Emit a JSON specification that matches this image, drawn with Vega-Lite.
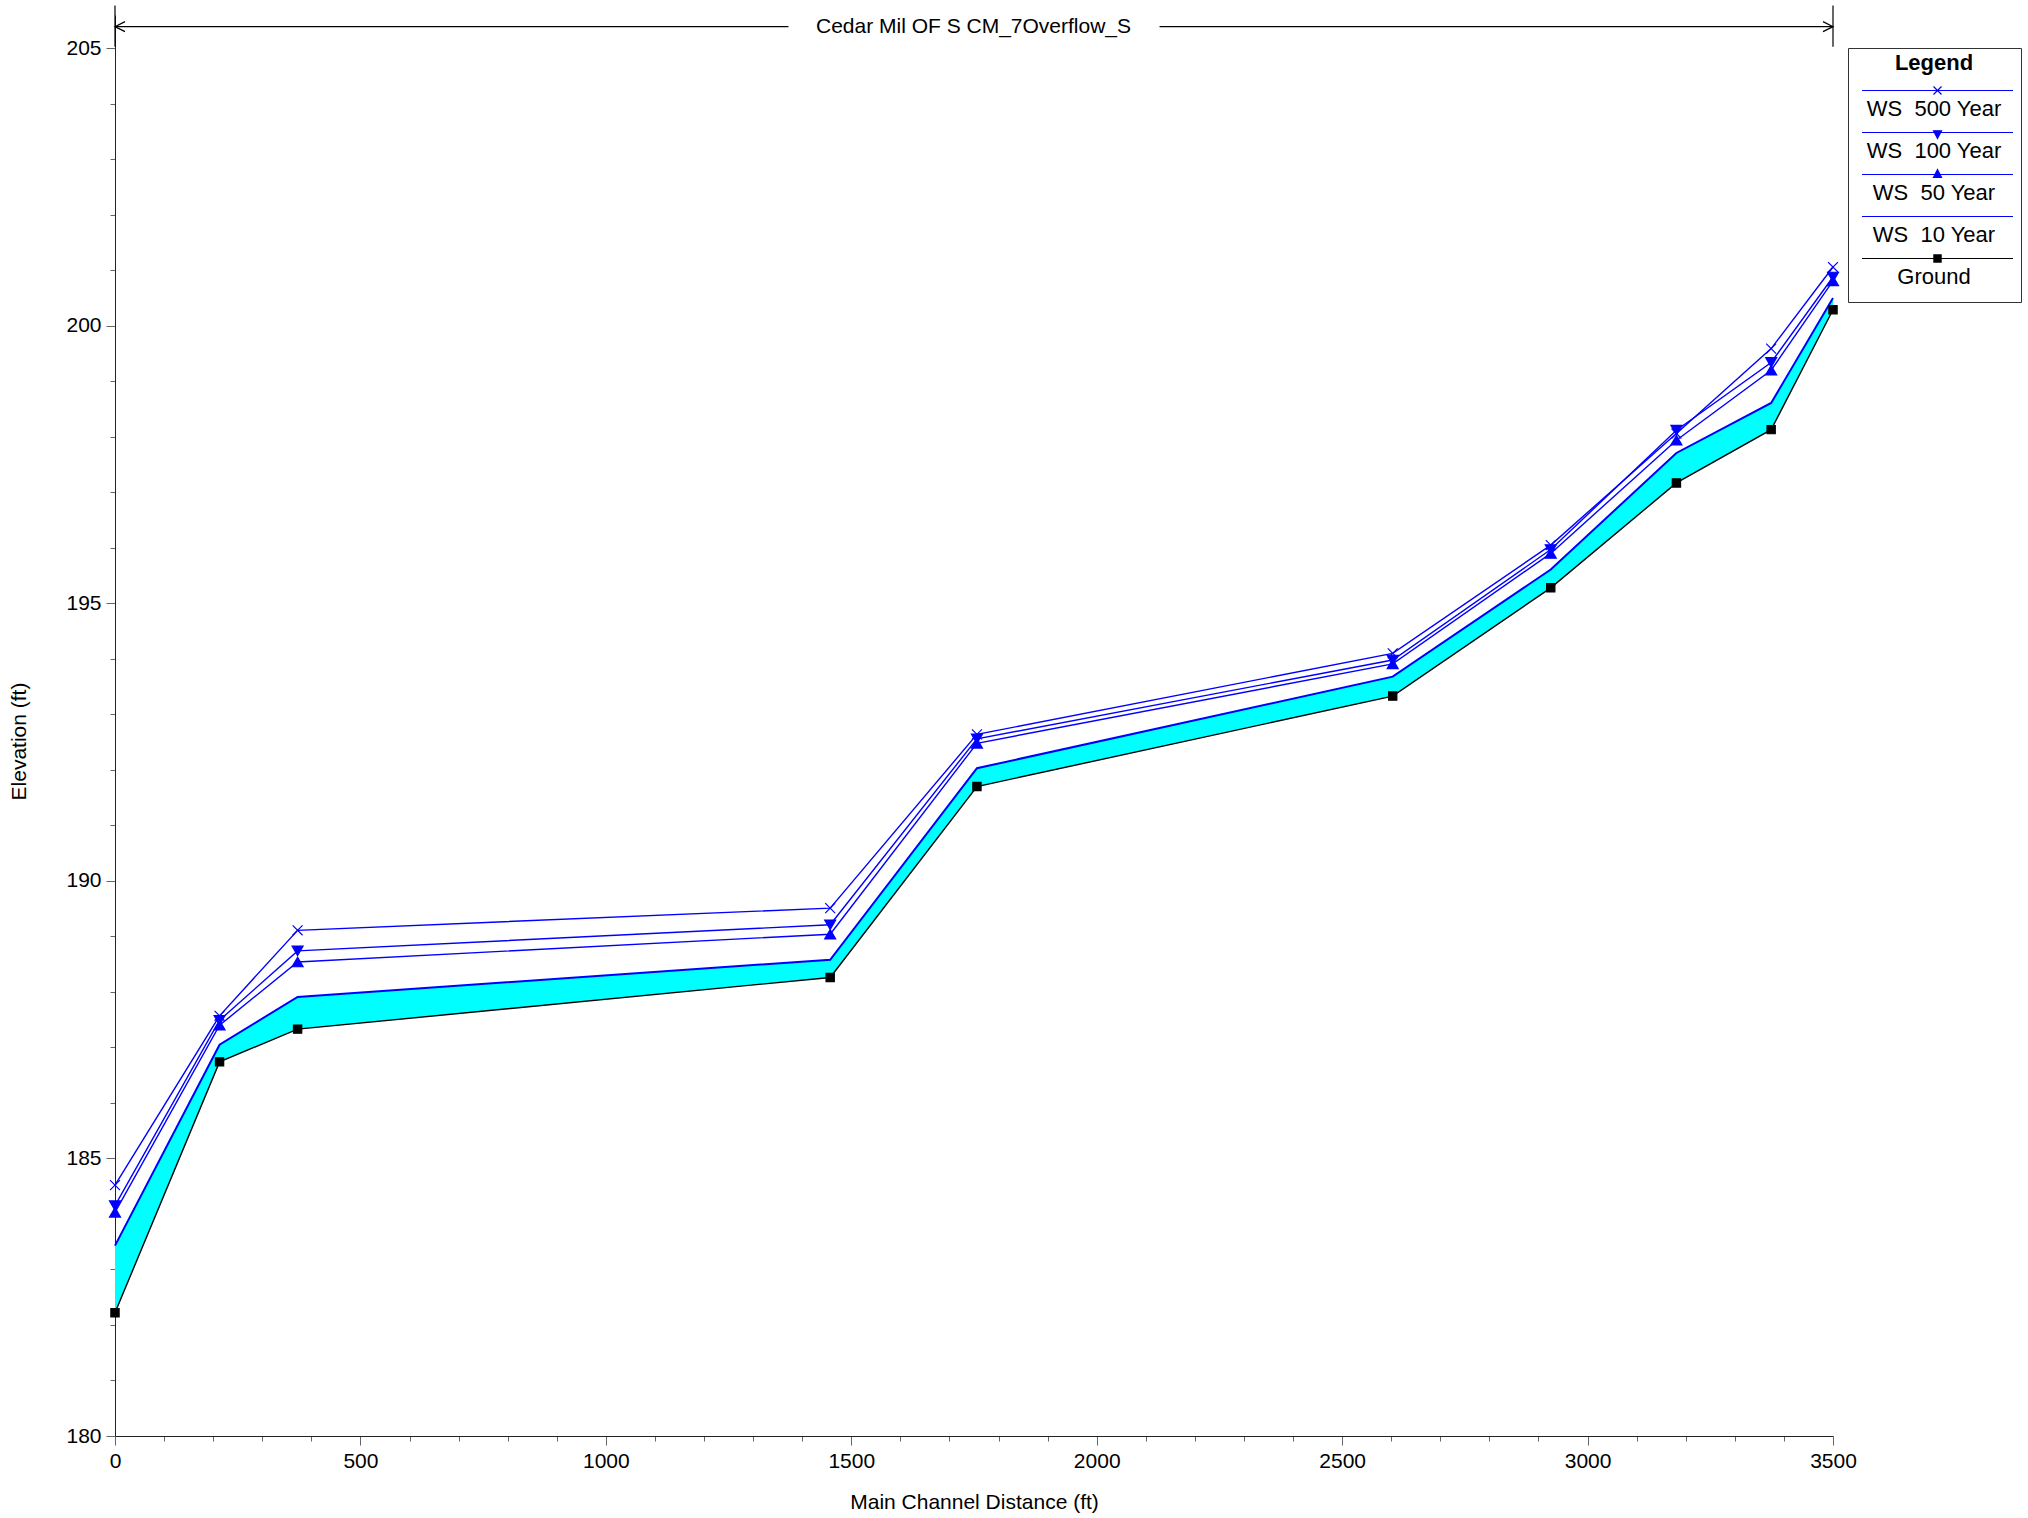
{
  "$schema": "https://vega.github.io/schema/vega-lite/v6.json",
  "width": 1718,
  "height": 1421,
  "autosize": {"type": "none"},
  "padding": {"left": 115, "top": 15, "right": 195, "bottom": 82},
  "background": "white",
  "config": {
    "view": {"stroke": null},
    "font": "Liberation Sans",
    "axis": {
      "labelFont": "Liberation Sans",
      "labelFontSize": 21,
      "labelColor": "#000000",
      "titleFont": "Liberation Sans",
      "titleFontSize": 21,
      "titleFontWeight": "normal",
      "titleColor": "#000000",
      "domainColor": "#222222",
      "domainWidth": 1,
      "tickColor": "#666666",
      "tickWidth": 1,
      "grid": false,
      "labelOverlap": false,
      "labelFlush": false
    },
    "legend": {"labelFont": "Liberation Sans", "titleFont": "Liberation Sans"}
  },
  "datasets": {
    "profile": [
      {"station": 0, "Ground": 182.22, "WS 10 Year": 183.43, "WS 50 Year": 184.03, "WS 100 Year": 184.15, "WS 500 Year": 184.52},
      {"station": 213, "Ground": 186.74, "WS 10 Year": 187.05, "WS 50 Year": 187.40, "WS 100 Year": 187.49, "WS 500 Year": 187.57},
      {"station": 372, "Ground": 187.33, "WS 10 Year": 187.91, "WS 50 Year": 188.54, "WS 100 Year": 188.74, "WS 500 Year": 189.11},
      {"station": 1457, "Ground": 188.26, "WS 10 Year": 188.58, "WS 50 Year": 189.04, "WS 100 Year": 189.21, "WS 500 Year": 189.51},
      {"station": 1756, "Ground": 191.70, "WS 10 Year": 192.03, "WS 50 Year": 192.48, "WS 100 Year": 192.56, "WS 500 Year": 192.64},
      {"station": 2603, "Ground": 193.33, "WS 10 Year": 193.68, "WS 50 Year": 193.91, "WS 100 Year": 193.98, "WS 500 Year": 194.10},
      {"station": 2925, "Ground": 195.28, "WS 10 Year": 195.61, "WS 50 Year": 195.90, "WS 100 Year": 195.97, "WS 500 Year": 196.05},
      {"station": 3181, "Ground": 197.17, "WS 10 Year": 197.71, "WS 50 Year": 197.94, "WS 100 Year": 198.12, "WS 500 Year": 198.06},
      {"station": 3374, "Ground": 198.13, "WS 10 Year": 198.61, "WS 50 Year": 199.20, "WS 100 Year": 199.34, "WS 500 Year": 199.59},
      {"station": 3500, "Ground": 200.29, "WS 10 Year": 200.50, "WS 50 Year": 200.81, "WS 100 Year": 200.88, "WS 500 Year": 201.06}
    ],
    "reachLines": [
      {"from": 0, "to": 1372, "elev": 205.39},
      {"from": 2128, "to": 3500, "elev": 205.39}
    ],
    "reachBars": [
      {"station": 0, "low": 205.03, "high": 205.77},
      {"station": 3500, "low": 205.03, "high": 205.77}
    ],
    "reachLeft": [{"station": 0, "elev": 205.39}],
    "reachRight": [{"station": 3500, "elev": 205.39}],
    "reachLabel": [{"station": 1749, "elev": 205.39, "label": "Cedar Mil OF S CM_7Overflow_S"}]
  },
  "layer": [
    {
      "data": {"name": "profile"},
      "mark": {"type": "area", "color": "#00ffff", "opacity": 1},
      "encoding": {
        "x": {
          "field": "station", "type": "quantitative", "title": "Main Channel Distance (ft)",
          "scale": {"domain": [0, 3500], "nice": false, "zero": false},
          "axis": {
            "values": [0,100,200,300,400,500,600,700,800,900,1000,1100,1200,1300,1400,1500,1600,1700,1800,1900,2000,2100,2200,2300,2400,2500,2600,2700,2800,2900,3000,3100,3200,3300,3400,3500],
            "format": "d",
            "labelExpr": "datum.value % 500 === 0 ? datum.label : ''",
            "tickSize": {"condition": {"test": "datum.value % 500 === 0", "value": 9}, "value": 5},
            "labelPadding": 5,
            "title": "Main Channel Distance (ft)",
            "titleY": 66,
            "titleBaseline": "middle"
          }
        },
        "y": {
          "field": "WS 10 Year", "type": "quantitative", "title": "Elevation (ft)",
          "scale": {"domain": [180, 205.6], "nice": false, "zero": false},
          "axis": {
            "values": [180,181,182,183,184,185,186,187,188,189,190,191,192,193,194,195,196,197,198,199,200,201,202,203,204,205],
            "format": "d",
            "labelExpr": "datum.value % 5 === 0 ? datum.label : ''",
            "tickSize": {"condition": {"test": "datum.value % 5 === 0", "value": 9}, "value": 5},
            "labelPadding": 5,
            "title": "Elevation (ft)",
            "titleX": -96,
            "titleY": 726,
            "titleBaseline": "middle",
            "titleAlign": "center"
          }
        },
        "y2": {"field": "Ground"}
      }
    },
    {
      "data": {"name": "profile"},
      "transform": [{"fold": ["WS 500 Year", "WS 100 Year", "WS 50 Year", "WS 10 Year", "Ground"], "as": ["series", "elev"]}],
      "mark": {"type": "line", "interpolate": "linear"},
      "encoding": {
        "x": {"field": "station", "type": "quantitative", "title": "Main Channel Distance (ft)"},
        "y": {"field": "elev", "type": "quantitative", "title": "Elevation (ft)"},
        "color": {
          "field": "series", "type": "nominal",
          "scale": {"domain": ["WS 500 Year", "WS 100 Year", "WS 50 Year", "WS 10 Year", "Ground"], "range": ["#0000ff", "#0000ff", "#0000ff", "#0000ff", "#000000"]},
          "legend": {
            "title": "Legend",
            "orient": "none",
            "legendX": 1733,
            "legendY": 33,
            "titleFontSize": 22,
            "titleFontWeight": "bold",
            "titleAnchor": "middle",
            "titleColor": "#000000",
            "titlePadding": 3.5,
            "labelFontSize": 22,
            "labelColor": "#000000",
            "labelAlign": "center",
            "labelOffset": -14.5,
            "labelLimit": 300,
            "labelExpr": "replace(datum.label, 'WS ', 'WS\u00a0 ')",
            "symbolSize": 256,
            "symbolOffset": 73.5,
            "symbolStrokeWidth": 1.2,
            "rowPadding": 0,
            "padding": 5,
            "strokeColor": "#333333",
            "fillColor": "#ffffff",
            "encoding": {
              "entries": {
                "width": {"value": 162},
                "height": {"value": 1},
                "stroke": {"value": {"expr": "datum.value === 'WS 500 Year' ? '#333333' : 'transparent'"}},
                "strokeWidth": {"value": 1},
                "strokeDash": {"value": [162, 2000]}
              },
              "symbols": {
                "y": {"value": 12},
                "shape": {"value": {"expr": "datum.value === 'WS 500 Year' ? 'M-9.44,0H9.44M-0.5,-0.5L0.5,0.5M-0.5,0.5L0.5,-0.5' : datum.value === 'WS 100 Year' ? 'M-9.44,0H9.44M-0.5,-0.22L0.5,-0.22L0,0.75Z' : datum.value === 'WS 50 Year' ? 'M-9.44,0H9.44M-0.5,0.35L0.5,0.35L0,-0.62Z' : datum.value === 'WS 10 Year' ? 'M-9.44,0H9.44' : 'M0,4.375M-9.44,0H9.44M-0.45,-0.45H0.45V0.45H-0.45Z'"}},
                "fill": {"value": {"expr": "scale('color', datum.value)"}}
              },
              "labels": {
                "y": {"value": 30.4}
              }
            }
          }
        },
        "strokeWidth": {"condition": {"test": "datum.series === 'WS 10 Year'", "value": 2}, "value": 1.4}
      }
    },
    {
      "data": {"name": "profile"},
      "transform": [{"fold": ["WS 500 Year", "WS 100 Year", "WS 50 Year", "Ground"], "as": ["series", "elev"]}],
      "mark": {"type": "point", "filled": true, "size": 121, "opacity": 1, "strokeWidth": 1.2},
      "encoding": {
        "x": {"field": "station", "type": "quantitative", "title": "Main Channel Distance (ft)"},
        "y": {"field": "elev", "type": "quantitative", "title": "Elevation (ft)"},
        "shape": {
          "field": "series", "type": "nominal", "legend": null,
          "scale": {"domain": ["WS 500 Year", "WS 100 Year", "WS 50 Year", "Ground"], "range": ["M-0.9,-0.9L0.9,0.9M-0.9,0.9L0.9,-0.9", "triangle-down", "triangle-up", "M-0.75,-0.75H0.75V0.75H-0.75Z"]}
        },
        "fill": {
          "field": "series", "type": "nominal", "legend": null,
          "scale": {"domain": ["WS 500 Year", "WS 100 Year", "WS 50 Year", "Ground"], "range": ["#0000ff", "#0000ff", "#0000ff", "#000000"]}
        },
        "stroke": {
          "field": "series", "type": "nominal", "legend": null,
          "scale": {"domain": ["WS 500 Year", "WS 100 Year", "WS 50 Year", "Ground"], "range": ["#0000ff", "#0000ff", "#0000ff", "#000000"]}
        }
      }
    },
    {
      "data": {"name": "reachLines"},
      "mark": {"type": "rule", "color": "#000000", "strokeWidth": 1.2},
      "encoding": {
        "x": {"field": "from", "type": "quantitative", "title": "Main Channel Distance (ft)"},
        "x2": {"field": "to"},
        "y": {"field": "elev", "type": "quantitative", "title": "Elevation (ft)"}
      }
    },
    {
      "data": {"name": "reachBars"},
      "mark": {"type": "rule", "color": "#000000", "strokeWidth": 1.2},
      "encoding": {
        "x": {"field": "station", "type": "quantitative", "title": "Main Channel Distance (ft)"},
        "y": {"field": "low", "type": "quantitative", "title": "Elevation (ft)"},
        "y2": {"field": "high"}
      }
    },
    {
      "data": {"name": "reachLeft"},
      "mark": {"type": "point", "shape": "M2,-1L0,0L2,1", "filled": false, "size": 100, "color": "#000000", "strokeWidth": 1.2, "opacity": 1},
      "encoding": {
        "x": {"field": "station", "type": "quantitative", "title": "Main Channel Distance (ft)"},
        "y": {"field": "elev", "type": "quantitative", "title": "Elevation (ft)"}
      }
    },
    {
      "data": {"name": "reachRight"},
      "mark": {"type": "point", "shape": "M-2,-1L0,0L-2,1", "filled": false, "size": 100, "color": "#000000", "strokeWidth": 1.2, "opacity": 1},
      "encoding": {
        "x": {"field": "station", "type": "quantitative", "title": "Main Channel Distance (ft)"},
        "y": {"field": "elev", "type": "quantitative", "title": "Elevation (ft)"}
      }
    },
    {
      "data": {"name": "reachLabel"},
      "mark": {"type": "text", "font": "Liberation Sans", "fontSize": 21, "color": "#000000", "align": "center", "baseline": "middle"},
      "encoding": {
        "x": {"field": "station", "type": "quantitative", "title": "Main Channel Distance (ft)"},
        "y": {"field": "elev", "type": "quantitative", "title": "Elevation (ft)"},
        "text": {"field": "label"}
      }
    }
  ]
}
